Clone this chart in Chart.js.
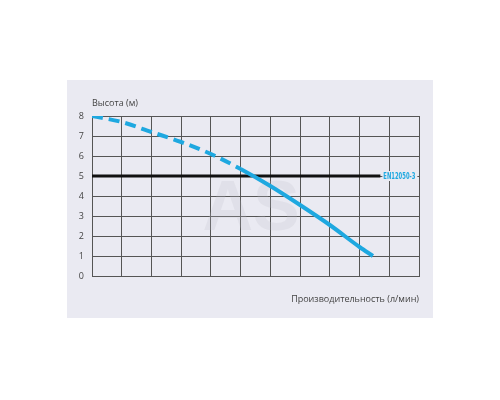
<!DOCTYPE html>
<html>
<head>
<meta charset="utf-8">
<script src="https://cdn.jsdelivr.net/npm/chart.js@4/dist/chart.umd.min.js"></script>
<style>
  html, body { margin: 0; padding: 0; background: #fff; }
  #wrap { position: relative; width: 500px; height: 400px; }
  #panel { position: absolute; left: 67px; top: 80px; width: 366px; height: 238px; background: #eaeaf2; }
  #pump { position: absolute; left: 0; top: 0; }
</style>
</head>
<body>
<div id="wrap">
  <div id="panel"></div>
  <canvas id="pump" width="500" height="400"></canvas>
</div>
<script>
// pump curve, x in grid cells, y in metres
var flow = [0, 1, 2, 3, 4, 5, 6, 7, 8, 9, 9.45];
var head = [8, 7.7, 7.2, 6.7, 6.1, 5.35, 4.5, 3.55, 2.55, 1.45, 1];
var dashedUntil = 5;

// EN12050-3 level
var stdFlow = [0, 9.7];
var stdHead = [5, 5];
var stdLabel = 'EN12050-3';

var yTicks = [0, 1, 2, 3, 4, 5, 6, 7, 8];
var yTitle = 'Высота (м)';
var xTitle = 'Производительность (л/мин)';

var blue = '#1ea8e0';

var curve = flow.map(function(f, i){ return {x: f, y: head[i]}; });
var stdLine = stdFlow.map(function(f, i){ return {x: f, y: stdHead[i]}; });

var extras = {
    id: 'extras',
    beforeDatasetsDraw: function(chart) {
        var ctx = chart.ctx;
        ctx.save();
        ctx.fillStyle = 'rgba(190,190,200,0.22)';
        ctx.font = 'bold 70px "Liberation Sans", Arial, sans-serif';
        ctx.textAlign = 'center';
        ctx.textBaseline = 'alphabetic';
        ctx.fillText('AS', 251, 230);
        ctx.restore();
    },
    afterDatasetsDraw: function(chart) {
        var ctx = chart.ctx;
        var xs = chart.scales.x, ys = chart.scales.y;
        ctx.save();
        ctx.fillStyle = '#444';
        ctx.font = '9px "Open Sans", "Noto Sans", sans-serif';
        ctx.textBaseline = 'middle';
        ctx.textAlign = 'left';
        ctx.fillText(yTitle, 92, 103);
        ctx.textAlign = 'right';
        ctx.fillText(xTitle, 419, 299);

        var lx = xs.getPixelForValue(stdFlow[1]) + 3;
        var ly = ys.getPixelForValue(stdHead[1]);
        ctx.fillStyle = '#eaeaf2';
        ctx.fillRect(lx - 1, ly - 5, 35, 10);
        ctx.fillStyle = blue;
        ctx.font = 'bold 8px "DejaVu Sans Condensed", "DejaVu Sans", sans-serif';
        ctx.textAlign = 'left';
        ctx.fillText(stdLabel, lx, ly + 0.5, 32);
        ctx.restore();
    }
};

var ctx = document.getElementById('pump');

var chart = new Chart(ctx, {
    type: 'line',
    data: {
        datasets: [
            {
                label: 'std',
                data: stdLine,
                borderColor: '#111',
                borderWidth: 3,
                pointRadius: 0,
                order: 2
            },
            {
                label: 'curve',
                data: curve,
                borderColor: blue,
                borderWidth: 4,
                borderCapStyle: 'butt',
                pointRadius: 0,
                cubicInterpolationMode: 'monotone',
                segment: {
                    borderDash: function(c) {
                        return c.p0.parsed.x < dashedUntil ? [11, 6] : undefined;
                    }
                },
                order: 1
            }
        ]
    },
    options: {
        responsive: false,
        animation: false,
        layout: { padding: { top: 116, right: 81, bottom: 124, left: 0 } },
        plugins: {
            legend: { display: false },
            tooltip: { enabled: false }
        },
        scales: {
            x: {
                type: 'linear',
                min: 0,
                max: 11,
                ticks: { display: false, stepSize: 1 },
                grid: { color: '#555', lineWidth: 1, drawTicks: false },
                border: { color: '#555', width: 1 }
            },
            y: {
                min: 0,
                max: 8,
                afterFit: function(scale) { scale.width = 92; },
                afterBuildTicks: function(scale) {
                    scale.ticks = yTicks.map(function(v){ return {value: v}; });
                },
                ticks: {
                    padding: 8,
                    color: '#444',
                    font: { family: '"Open Sans", "Noto Sans", sans-serif', size: 9 }
                },
                grid: { color: '#555', lineWidth: 1, drawTicks: false },
                border: { color: '#555', width: 1 }
            }
        }
    },
    plugins: [extras]
});
</script>
</body>
</html>
